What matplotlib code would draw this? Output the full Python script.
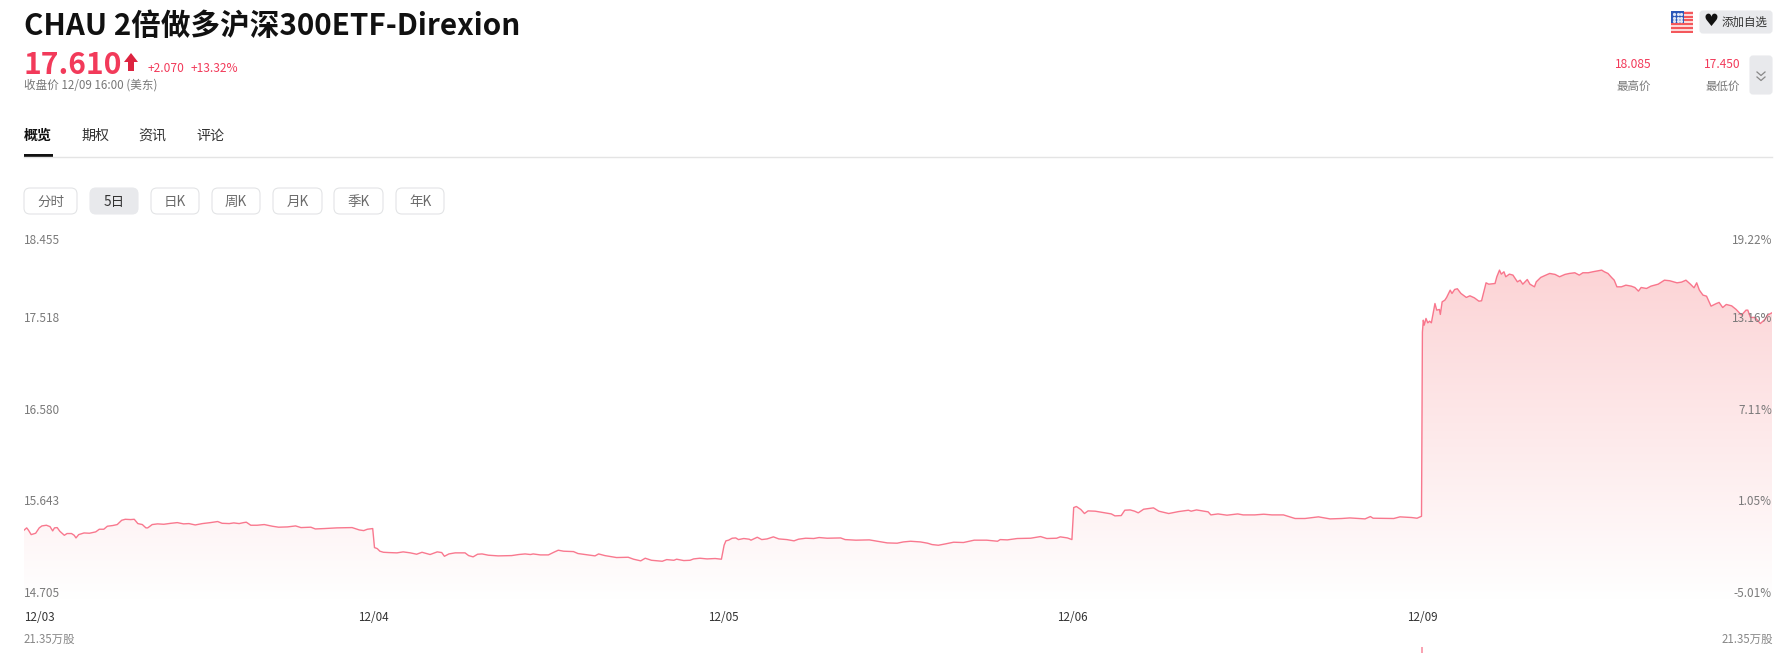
import numpy as np
import matplotlib
matplotlib.use("Agg")
import matplotlib.pyplot as plt
from matplotlib.patches import FancyBboxPatch, Rectangle, Polygon
from matplotlib.colors import LinearSegmentedColormap

plt.rcParams['font.family'] = ['Noto Sans CJK SC', 'DejaVu Sans']

# minutes into each session, price
d1_min = [0,3,5,8,13,17,20,25,29,32,34,37,40,45,48,53,56,58,61,67,73,80,84,89,93,99,104,109,113,119,123,127,132,136,138,143,149,156,164,171,178,184,191,199,208,216,221,229,234,240,245,248,253,260,268,277,284,294,303,309,320,325,335,349,366,374,379,383,389]
d1_px = [15.420,15.444,15.420,15.375,15.389,15.444,15.464,15.471,15.457,15.413,15.444,15.447,15.409,15.368,15.386,15.386,15.368,15.341,15.375,15.392,15.389,15.403,15.430,15.430,15.461,15.468,15.478,15.522,15.532,15.529,15.532,15.488,15.478,15.444,15.444,15.478,15.485,15.481,15.491,15.498,15.485,15.488,15.474,15.488,15.498,15.509,15.491,15.488,15.495,15.488,15.498,15.502,15.471,15.471,15.478,15.461,15.451,15.454,15.464,15.447,15.451,15.433,15.437,15.444,15.447,15.423,15.416,15.430,15.437]

d2_min = [1,4,7,11,17,26,33,41,48,54,59,63,71,76,79,84,91,102,106,111,116,121,128,139,154,162,169,175,178,186,195,201,206,212,223,228,236,247,251,258,271,284,290,298,303,310,322,327,335,338,346,353,357,364,372,381,388]
d2_px = [15.242,15.232,15.205,15.194,15.191,15.188,15.198,15.188,15.174,15.194,15.181,15.171,15.198,15.191,15.153,15.177,15.188,15.188,15.160,15.147,15.174,15.177,15.164,15.157,15.160,15.171,15.177,15.171,15.177,15.167,15.167,15.194,15.215,15.205,15.201,15.181,15.171,15.157,15.177,15.160,15.140,15.143,15.123,15.106,15.133,15.112,15.102,15.119,15.112,15.123,15.109,15.112,15.126,15.133,15.126,15.130,15.123]

d3_min = [1,3,6,10,14,17,23,29,31,38,43,49,56,62,71,79,84,92,101,107,116,131,136,148,163,172,183,194,201,209,220,228,233,240,248,257,268,280,294,306,309,317,328,343,354,361,372,376,384,389]
d3_px = [15.266,15.311,15.318,15.338,15.341,15.324,15.335,15.328,15.318,15.348,15.324,15.331,15.352,15.331,15.324,15.311,15.328,15.338,15.335,15.345,15.338,15.341,15.324,15.318,15.321,15.307,15.290,15.287,15.300,15.307,15.300,15.287,15.273,15.266,15.280,15.297,15.294,15.318,15.318,15.307,15.324,15.321,15.335,15.338,15.355,15.335,15.338,15.352,15.341,15.324]

d4_min = [1,4,9,13,17,25,34,43,47,54,58,64,69,73,79,90,96,107,118,129,132,138,151,154,162,172,184,190,203,213,222,235,242,248,259,274,287,300,309,326,332,335,358,365,378,384,389]
d4_px = [15.652,15.663,15.632,15.591,15.618,15.615,15.601,15.587,15.567,15.570,15.625,15.628,15.615,15.598,15.635,15.649,15.615,15.591,15.611,15.625,15.615,15.628,15.608,15.577,15.587,15.574,15.587,15.577,15.577,15.584,15.577,15.577,15.557,15.540,15.540,15.557,15.536,15.540,15.546,15.536,15.560,15.543,15.540,15.557,15.550,15.543,15.563]

d5_min = [0,1,2,4,6,8,10,14,16,19,20,22,25,27,31,33,36,39,43,49,53,58,63,66,68,71,74,81,83,86,88,91,93,97,101,106,109,112,117,120,125,127,132,136,142,148,153,159,164,170,175,179,185,190,200,203,207,211,214,217,222,227,233,237,241,244,250,255,263,270,276,284,289,294,299,303,306,309,313,317,322,328,331,335,339,345,350,356,361,363,366,371,377,382,385,390]
d5_px = [17.450,17.572,17.521,17.590,17.545,17.562,17.545,17.743,17.675,17.682,17.631,17.760,17.777,17.805,17.880,17.846,17.887,17.894,17.846,17.805,17.822,17.801,17.767,17.771,17.846,17.955,17.941,17.948,18.017,18.085,18.044,18.068,18.017,18.044,18.034,17.965,17.982,17.941,17.989,17.941,17.914,17.965,18.010,18.027,18.051,18.041,18.017,18.041,18.051,18.058,18.034,18.058,18.058,18.068,18.085,18.068,18.051,18.010,17.982,17.914,17.914,17.931,17.921,17.907,17.870,17.907,17.897,17.921,17.941,17.982,17.976,17.955,17.962,17.982,17.941,17.904,17.955,17.880,17.829,17.818,17.716,17.743,17.754,17.702,17.733,17.719,17.682,17.624,17.675,17.675,17.600,17.600,17.538,17.579,17.624,17.648]

session_min = 390
day_labels = ['12/03', '12/04', '12/05', '12/06', '12/09']
price_ticks = [14.705, 15.643, 16.580, 17.518, 18.455]
price_labels = ['14.705', '15.643', '16.580', '17.518', '18.455']
pct_labels = ['-5.01%', '1.05%', '7.11%', '13.16%', '19.22%']
vol_max = 21.35
vol_day = 4
vol_bar = [21.35]

W, H = 1791, 653
fig = plt.figure(figsize=(W/100, H/100), dpi=100)

def box(x0, y0, x1, y1):
    return [x0/W, 1-y1/H, (x1-x0)/W, (y1-y0)/H]

# price panel
ax = fig.add_axes(box(24, 234, 1772, 600))
xs = []
ys = []
for i, (m, p) in enumerate(zip([d1_min, d2_min, d3_min, d4_min, d5_min],
                               [d1_px, d2_px, d3_px, d4_px, d5_px])):
    xs.extend(np.array(m) + i*session_min)
    ys.extend(p)
xs = np.array(xs)
ys = np.array(ys)

cmap = LinearSegmentedColormap.from_list('fade', ['#ffffff', '#fcd4d6'])
grad = np.linspace(0, 1, 256).reshape(-1, 1)
img = ax.imshow(grad, cmap=cmap, origin='lower', aspect='auto',
                extent=[0, 5*session_min, price_ticks[0], 18.085], zorder=1)
poly = ax.fill_between(xs, ys, price_ticks[0], color='none', lw=0)
img.set_clip_path(poly.get_paths()[0], transform=ax.transData)
ax.plot(xs, ys, color='#f8627c', lw=1.0, alpha=0.85, zorder=2)
ax.set_xlim(0, 5*session_min)
ax.set_ylim(price_ticks[0], price_ticks[-1])

for s in ax.spines.values():
    s.set_visible(False)
ax.patch.set_alpha(0)

ax.set_xticks([i*session_min for i in range(5)])
ax.set_xticklabels(day_labels, fontsize=8.4, color='#333333')
ax.tick_params(axis='x', length=0, pad=8)
ax.get_xticklabels()[0].set_ha('left')

ax.set_yticks(price_ticks)
ax.set_yticklabels(price_labels, fontsize=8.5, color='#7a7a7a')
ax.tick_params(axis='y', length=0, pad=0)
for i, t in enumerate(ax.get_yticklabels()):
    t.set_ha('left')
    t.set_va('top' if i == 4 else 'bottom')

axr = ax.twinx()
axr.set_ylim(price_ticks[0], price_ticks[-1])
axr.set_yticks(price_ticks)
axr.set_yticklabels(pct_labels, fontsize=8.5, color='#7a7a7a')
axr.tick_params(axis='y', length=0, pad=0)
for s in axr.spines.values():
    s.set_visible(False)
for i, t in enumerate(axr.get_yticklabels()):
    t.set_ha('right')
    t.set_va('top' if i == 4 else 'bottom')

# volume panel, runs off the bottom of the crop
axv = fig.add_axes(box(24, 647, 1772, 720))
axv.set_xlim(0, 5*session_min)
axv.set_ylim(0, vol_max)
axv.bar([vol_day*session_min], vol_bar, width=2.2, color='#f9a3b2', align='center')
axv.axis('off')

# page chrome in pixel coordinates
ui = fig.add_axes([0, 0, 1, 1], zorder=5)
ui.set_xlim(0, W)
ui.set_ylim(H, 0)
ui.axis('off')

RED = '#f23a5a'
GREY = '#777777'

def txt(x, y, s, size, color='#333333', ha='left', weight='normal'):
    ui.text(x, y, s, fontsize=size*0.72, color=color, ha=ha, va='center', fontweight=weight)

def btn(x0, y0, x1, y1, fc='white', ec='#e3e4e6', r=6):
    ui.add_patch(FancyBboxPatch((x0, y0), x1-x0, y1-y0, boxstyle=f'round,pad=0,rounding_size={r}',
                                fc=fc, ec=ec, lw=0.8))

txt(24, 26, 'CHAU 2倍做多沪深300ETF-Direxion', 29.6, '#111111', weight='bold')
txt(24, 65, '17.610', 30, RED, weight='bold')
ui.add_patch(Polygon([(131, 53), (138, 62), (134, 62), (134, 71), (128, 71), (128, 62), (124, 62)],
                     fc='#dd2440', ec='none'))
txt(148, 68, '+2.070', 12, RED)
txt(191, 68, '+13.32%', 12, RED)
txt(24, 85, '收盘价 12/09 16:00 (美东)', 11.6, GREY)

tabs = ['概览', '期权', '资讯', '评论']
tab_x = [24, 81, 138, 196]
for i, (name, x) in enumerate(zip(tabs, tab_x)):
    txt(x, 136, name, 14, '#111111' if i == 0 else '#333333', weight='bold' if i == 0 else 'normal')
ui.add_patch(Rectangle((24, 154), 29, 3, fc='#111111', ec='none'))
ui.plot([24, 1772], [156.5, 156.5], color='#e4e4e4', lw=1)

periods = ['分时', '5日', '日K', '周K', '月K', '季K', '年K']
period_x = [(24, 77), (90, 138), (151, 199), (212, 260), (273, 322), (334, 383), (396, 444)]
for i, (name, (x0, x1)) in enumerate(zip(periods, period_x)):
    if i == 1:
        btn(x0, 188, x1, 214, fc='#e8e9ec', ec='#e8e9ec')
    else:
        btn(x0, 188, x1, 214)
    txt((x0+x1)/2, 202, name, 13.5, '#333333' if i == 1 else '#6b6b6b', ha='center')

# flag
ui.add_patch(Rectangle((1671, 11), 22, 22, fc='#fbd9d9', ec='none'))
for k in range(6):
    ui.add_patch(Rectangle((1671, 12+k*3.7), 22, 2, fc='#f4585c', ec='none'))
ui.add_patch(Rectangle((1671, 11), 13, 12, fc='#2b57b8', ec='none'))
for fx in [1674, 1677.5, 1681]:
    for fy in [14, 17.5, 21]:
        ui.plot(fx, fy, 'o', ms=1.3, color='#dfe6f5')

btn(1700, 11, 1772, 33, fc='#e8e9ec', ec='#e8e9ec', r=3)
ui.text(1711, 21.5, '♥', fontsize=12, color='#111111', ha='center', va='center', family='DejaVu Sans')
txt(1722, 22, '添加自选', 11.5, '#333333')

txt(1633, 65, '18.085', 12, RED, ha='center')
txt(1634, 86, '最高价', 11.5, GREY, ha='center')
txt(1722, 65, '17.450', 12, RED, ha='center')
txt(1723, 86, '最低价', 11.5, GREY, ha='center')
btn(1750, 56, 1772, 94, fc='#e8e9ec', ec='#e8e9ec', r=3)
for cy in [72, 77]:
    ui.plot([1757, 1761, 1765], [cy, cy+3.5, cy], color='#888888', lw=0.9)

txt(24, 639, '21.35万股', 11.5, '#888888')
txt(1773, 639, '21.35万股', 11.5, '#888888', ha='right')

fig.savefig('out.png', dpi=100)
